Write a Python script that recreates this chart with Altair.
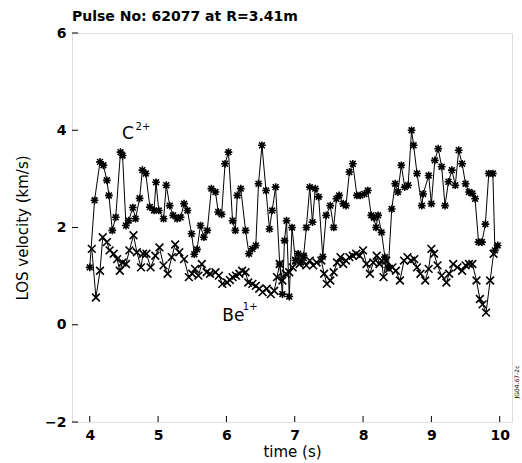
import altair as alt
import pandas as pd

# C2+ series (time s, LOS velocity km/s)
c2_t = [4.00, 4.07, 4.15, 4.20, 4.25, 4.28, 4.33, 4.38, 4.45, 4.48, 4.53, 4.57, 4.63, 4.67, 4.73, 4.77,
        4.82, 4.88, 4.94, 4.97, 5.01, 5.08, 5.12, 5.17, 5.22, 5.28, 5.33, 5.38, 5.43, 5.49, 5.53, 5.57,
        5.62, 5.67, 5.72, 5.78, 5.84, 5.88, 5.93, 5.98, 6.03, 6.09, 6.13, 6.16, 6.21, 6.28, 6.33, 6.38,
        6.43, 6.47, 6.52, 6.58, 6.63, 6.67, 6.72, 6.78, 6.82, 6.85, 6.88, 6.92, 6.96, 7.01, 7.05, 7.09,
        7.13, 7.17, 7.22, 7.26, 7.30, 7.35, 7.41, 7.46, 7.52, 7.57, 7.61, 7.65, 7.71, 7.75, 7.80, 7.85,
        7.91, 7.96, 8.02, 8.07, 8.12, 8.16, 8.19, 8.22, 8.27, 8.32, 8.37, 8.42, 8.47, 8.51, 8.56, 8.61,
        8.66, 8.71, 8.74, 8.79, 8.86, 8.88, 8.96, 9.00, 9.05, 9.10, 9.15, 9.20, 9.25, 9.30, 9.35, 9.40,
        9.45, 9.50, 9.55, 9.60, 9.64, 9.69, 9.74, 9.79, 9.84, 9.90, 9.93, 9.97]
c2_v = [1.18, 2.56, 3.35, 3.28, 2.97, 2.66, 1.94, 2.21, 3.55, 3.48, 2.04, 2.14, 2.41, 2.18, 2.60, 3.18,
        3.11, 2.42, 2.35, 2.93, 2.35, 2.18, 2.87, 2.45, 2.25, 2.18, 2.21, 2.49, 2.35, 1.87, 1.45, 1.55,
        2.04, 1.80, 1.94, 2.80, 2.73, 2.32, 2.27, 3.31, 3.55, 2.14, 1.94, 2.66, 2.80, 1.94, 1.46, 1.56,
        1.63, 2.90, 3.69, 2.76, 1.97, 2.35, 2.83, 1.25, 0.63, 1.73, 2.14, 0.58, 2.00, 1.32, 1.46, 1.28,
        1.42, 2.00, 2.83, 2.11, 2.80, 2.63, 1.40, 2.25, 2.45, 2.00, 2.59, 2.66, 2.49, 2.45, 3.14, 3.31,
        2.66, 2.66, 2.69, 2.76, 2.25, 2.20, 2.00, 2.25, 1.90, 1.39, 1.18, 2.38, 2.90, 2.73, 3.28, 2.83,
        2.87, 4.00, 3.69, 3.11, 2.45, 2.69, 3.07, 2.49, 3.38, 3.62, 3.25, 2.45, 2.94, 3.18, 2.87, 3.59,
        3.31, 2.90, 2.73, 2.70, 2.59, 1.70, 1.70, 2.07, 3.11, 3.11, 1.53, 1.63]

# Be1+ series
be_t = [4.03, 4.09, 4.15, 4.19, 4.25, 4.29, 4.35, 4.40, 4.44, 4.48, 4.53, 4.58, 4.64, 4.69, 4.75, 4.78,
        4.83, 4.89, 4.96, 5.02, 5.08, 5.14, 5.20, 5.25, 5.31, 5.38, 5.45, 5.50, 5.54, 5.59, 5.64, 5.71,
        5.76, 5.84, 5.89, 5.94, 6.01, 6.05, 6.09, 6.14, 6.19, 6.23, 6.28, 6.32, 6.38, 6.43, 6.48, 6.53,
        6.59, 6.65, 6.70, 6.74, 6.78, 6.82, 6.87, 6.92, 6.97, 7.02, 7.07, 7.12, 7.17, 7.22, 7.27, 7.32,
        7.39, 7.43, 7.47, 7.52, 7.57, 7.62, 7.67, 7.71, 7.75, 7.80, 7.85, 7.90, 7.95, 8.00, 8.05, 8.10,
        8.15, 8.20, 8.24, 8.27, 8.30, 8.34, 8.38, 8.43, 8.48, 8.54, 8.60, 8.65, 8.70, 8.75, 8.79, 8.84,
        8.91, 8.96, 9.00, 9.04, 9.09, 9.15, 9.22, 9.26, 9.32, 9.38, 9.45, 9.50, 9.55, 9.60, 9.66, 9.71,
        9.75, 9.80, 9.86, 9.91]
be_v = [1.56, 0.56, 1.11, 1.80, 1.70, 1.53, 1.46, 1.35, 1.11, 1.28, 1.25, 1.53, 1.84, 1.49, 1.18, 1.46,
        1.46, 1.18, 1.42, 1.59, 1.22, 1.05, 1.39, 1.65, 1.49, 1.35, 0.98, 1.05, 1.15, 1.01, 1.25, 1.08,
        1.05, 1.08, 1.01, 0.84, 0.87, 0.92, 0.98, 1.01, 1.05, 1.11, 1.08, 0.87, 0.84, 0.80, 0.74, 0.67,
        0.74, 0.63, 0.70, 0.98, 1.25, 0.91, 1.05, 1.08, 1.18, 1.32, 1.25, 1.39, 1.22, 1.32, 1.22, 1.28,
        1.32, 1.05, 0.84, 0.91, 1.08, 1.28, 1.39, 1.25, 1.32, 1.39, 1.42, 1.46, 1.42, 1.53, 1.25, 1.05,
        1.28, 1.42, 1.25, 1.32, 0.98, 1.32, 1.15, 1.18, 1.11, 0.91, 1.32, 1.39, 1.32, 1.35, 1.18, 1.05,
        0.91, 1.15, 1.56, 1.46, 1.22, 1.01, 0.87, 1.05, 1.25, 1.18, 1.11, 1.22, 1.25, 1.25, 0.91, 0.53,
        0.42, 0.25, 0.91, 1.46]

series_names = ["C2+", "Be1+"]
x_ticks = [4, 5, 6, 7, 8, 9, 10]
y_ticks = [-2, 0, 2, 4, 6]

# Annotation labels
ann_text = ["C", "Be"]
ann_t = [4.47, 5.94]
ann_v = [3.93, 0.19]
sup_text = ["2+", "1+"]
sup_t = [4.67, 6.24]
sup_v = [4.06, 0.37]

W, H = 440, 389
FONT = "DejaVu Sans"

df = pd.concat([
    pd.DataFrame({"t": c2_t, "v": c2_v, "series": series_names[0]}),
    pd.DataFrame({"t": be_t, "v": be_v, "series": series_names[1]}),
])

xs = alt.Scale(domain=[3.74, 10.18], nice=False, zero=False)
ys = alt.Scale(domain=[-2, 6], nice=False, zero=False)

x_axis = alt.Axis(values=x_ticks, format="d", title="time (s)", tickSize=0, labelPadding=6,
                  labelFont=FONT, labelFontSize=14, labelFontWeight="bold", labelColor="black",
                  titleFont=FONT, titleFontSize=15, titleFontWeight="normal", titleColor="black",
                  titlePadding=2, domain=False, grid=False, labelFlush=False)
y_axis = alt.Axis(values=y_ticks, format="d", title="LOS velocity (km/s)", tickSize=0, labelPadding=6,
                  labelFont=FONT, labelFontSize=14, labelFontWeight="bold", labelColor="black",
                  titleFont=FONT, titleFontSize=15, titleFontWeight="normal", titleColor="black",
                  titlePadding=14, domain=False, grid=False, labelFlush=False)

asterisk = "M-1,0L1,0M0,-1L0,1M-0.75,-0.75L0.75,0.75M-0.75,0.75L0.75,-0.75"
xmark = "M-1,-1L1,1M-1,1L1,-1"

base = alt.Chart(df)
lines = base.mark_line(color="black", strokeWidth=1).encode(
    x=alt.X("t:Q", scale=xs, axis=x_axis),
    y=alt.Y("v:Q", scale=ys, axis=y_axis),
    detail="series:N",
)
points = base.mark_point(filled=False, color="black", strokeWidth=1.6, size=60, opacity=1).encode(
    x=alt.X("t:Q", scale=xs),
    y=alt.Y("v:Q", scale=ys),
    shape=alt.Shape("series:N", scale=alt.Scale(domain=series_names, range=[asterisk, xmark]), legend=None),
)

xt = alt.Chart(pd.DataFrame({"t": x_ticks})).mark_rule(color="black", strokeWidth=1).encode(
    x=alt.X("t:Q", scale=xs), y=alt.value(H), y2=alt.value(H - 6))
yt = alt.Chart(pd.DataFrame({"v": y_ticks})).mark_rule(color="black", strokeWidth=1).encode(
    y=alt.Y("v:Q", scale=ys), x=alt.value(0), x2=alt.value(6))

ann = alt.Chart(pd.DataFrame({"t": ann_t, "v": ann_v, "txt": ann_text})).mark_text(
    align="left", baseline="middle", font=FONT, fontSize=17, color="black").encode(
    x=alt.X("t:Q", scale=xs), y=alt.Y("v:Q", scale=ys), text="txt:N")
sup = alt.Chart(pd.DataFrame({"t": sup_t, "v": sup_v, "txt": sup_text})).mark_text(
    align="left", baseline="middle", font=FONT, fontSize=10, color="black").encode(
    x=alt.X("t:Q", scale=xs), y=alt.Y("v:Q", scale=ys), text="txt:N")

side = alt.Chart(pd.DataFrame({"txt": ["JG04.67-2c"]})).mark_text(
    angle=270, align="center", baseline="middle", font=FONT, fontSize=6, color="black").encode(
    x=alt.value(W + 5), y=alt.value(H - 40), text="txt:N")

chart = alt.layer(lines, points, xt, yt, ann, sup, side).properties(
    width=W, height=H,
    title=alt.TitleParams("Pulse No: 62077 at R=3.41m", anchor="start", frame="group", font=FONT,
                          fontSize=14, fontWeight="bold", color="black", offset=2),
    autosize=alt.AutoSizeParams(type="none"),
    padding={"left": 72, "top": 33, "right": 10, "bottom": 41},
).configure_view(stroke="black", strokeWidth=1.3).configure(background="white")

chart.save("out.html", embed_options={"renderer": "svg", "actions": False})
